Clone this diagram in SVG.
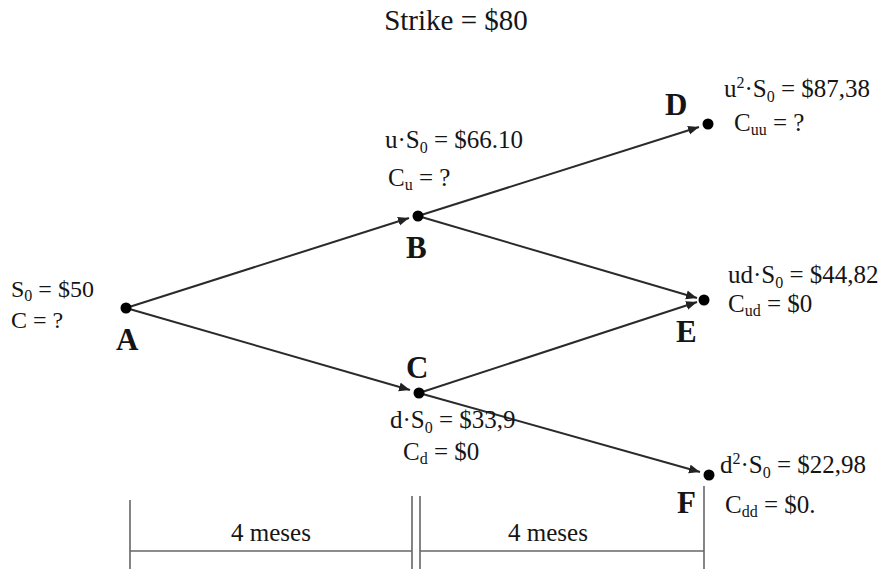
<svg xmlns="http://www.w3.org/2000/svg" width="882" height="569" viewBox="0 0 882 569">
<defs>
<marker id="arr" markerUnits="userSpaceOnUse" markerWidth="12" markerHeight="10" refX="11" refY="4.5" orient="auto">
<path d="M0,0 L11,4.5 L0,9 z" fill="#222"/>
</marker>
<style>
text{font-family:"Liberation Serif","Times New Roman",serif;fill:#151515}
.t{font-size:25px}
.big{font-size:29px}
.lbl{font-size:31px;font-weight:bold}
.sub{font-size:16px}
.edge{stroke:#2a2a2a;stroke-width:2;fill:none;marker-end:url(#arr)}
.tl{stroke:#666;stroke-width:1.6;fill:none}
.dot{fill:#000}
</style>
</defs>
<rect width="882" height="569" fill="#fff"/>
<text class="big" x="456" y="30" text-anchor="middle">Strike = $80</text>
<g id="connectors">
<line class="edge" x1="126" y1="308" x2="409" y2="218"/>
<line class="edge" x1="126" y1="308" x2="410" y2="390"/>
<line class="edge" x1="418" y1="216" x2="699" y2="127"/>
<line class="edge" x1="418" y1="216" x2="697" y2="298"/>
<line class="edge" x1="419" y1="393" x2="697" y2="302"/>
<line class="edge" x1="419" y1="393" x2="700" y2="472"/>
</g>
<g id="A">
<circle class="dot" cx="126" cy="308" r="5.5"/>
<text class="lbl" x="116" y="350">A</text>
<text class="t" x="11" y="297" style="font-size:24px">S<tspan class="sub" dy="4">0</tspan><tspan dy="-4"> = $50</tspan></text>
<text class="t" x="11" y="328" style="font-size:24px">C = ?</text>
</g>
<g id="B">
<circle class="dot" cx="418" cy="216" r="5.5"/>
<text class="lbl" x="406" y="258">B</text>
<text class="t" x="385" y="148">u·S<tspan class="sub" dy="5">0</tspan><tspan dy="-5"> = $66.10</tspan></text>
<text class="t" x="388" y="186">C<tspan class="sub" dy="4">u</tspan><tspan dy="-4"> = ?</tspan></text>
</g>
<g id="C">
<circle class="dot" cx="419" cy="393" r="5.5"/>
<text class="lbl" x="406" y="378">C</text>
<text class="t" x="390" y="428">d·S<tspan class="sub" dy="5">0</tspan><tspan dy="-5"> = $33,9</tspan></text>
<text class="t" x="403" y="460">C<tspan class="sub" dy="4">d</tspan><tspan dy="-4"> = $0</tspan></text>
</g>
<g id="D">
<circle class="dot" cx="708" cy="124" r="5.5"/>
<text class="lbl" x="665" y="115">D</text>
<text class="t" x="724" y="97">u<tspan class="sub" dy="-9">2</tspan><tspan dy="9">·S</tspan><tspan class="sub" dy="5">0</tspan><tspan dy="-5"> = $87,38</tspan></text>
<text class="t" x="734" y="131">C<tspan class="sub" dy="4">uu</tspan><tspan dy="-4"> = ?</tspan></text>
</g>
<g id="E">
<circle class="dot" cx="704" cy="300" r="5.5"/>
<text class="lbl" x="676" y="342">E</text>
<text class="t" x="728" y="283">ud·S<tspan class="sub" dy="5">0</tspan><tspan dy="-5"> = $44,82</tspan></text>
<text class="t" x="728" y="312">C<tspan class="sub" dy="4">ud</tspan><tspan dy="-4"> = $0</tspan></text>
</g>
<g id="F">
<circle class="dot" cx="709" cy="475" r="5.5"/>
<text class="lbl" x="677" y="513">F</text>
<text class="t" x="720" y="473">d<tspan class="sub" dy="-9">2</tspan><tspan dy="9">·S</tspan><tspan class="sub" dy="5">0</tspan><tspan dy="-5"> = $22,98</tspan></text>
<text class="t" x="725" y="513">C<tspan class="sub" dy="4">dd</tspan><tspan dy="-4"> = $0.</tspan></text>
</g>
<g id="timeline">
<line class="tl" x1="130" y1="500" x2="130" y2="569"/>
<line class="tl" x1="412" y1="496" x2="412" y2="569"/>
<line class="tl" x1="420" y1="496" x2="420" y2="569"/>
<line class="tl" x1="704" y1="486" x2="704" y2="569"/>
<line class="tl" x1="130" y1="551" x2="412" y2="551"/>
<line class="tl" x1="420" y1="551" x2="704" y2="551"/>
<text class="t" x="271" y="541" text-anchor="middle">4 meses</text>
<text class="t" x="548" y="541" text-anchor="middle">4 meses</text>
</g>
</svg>
